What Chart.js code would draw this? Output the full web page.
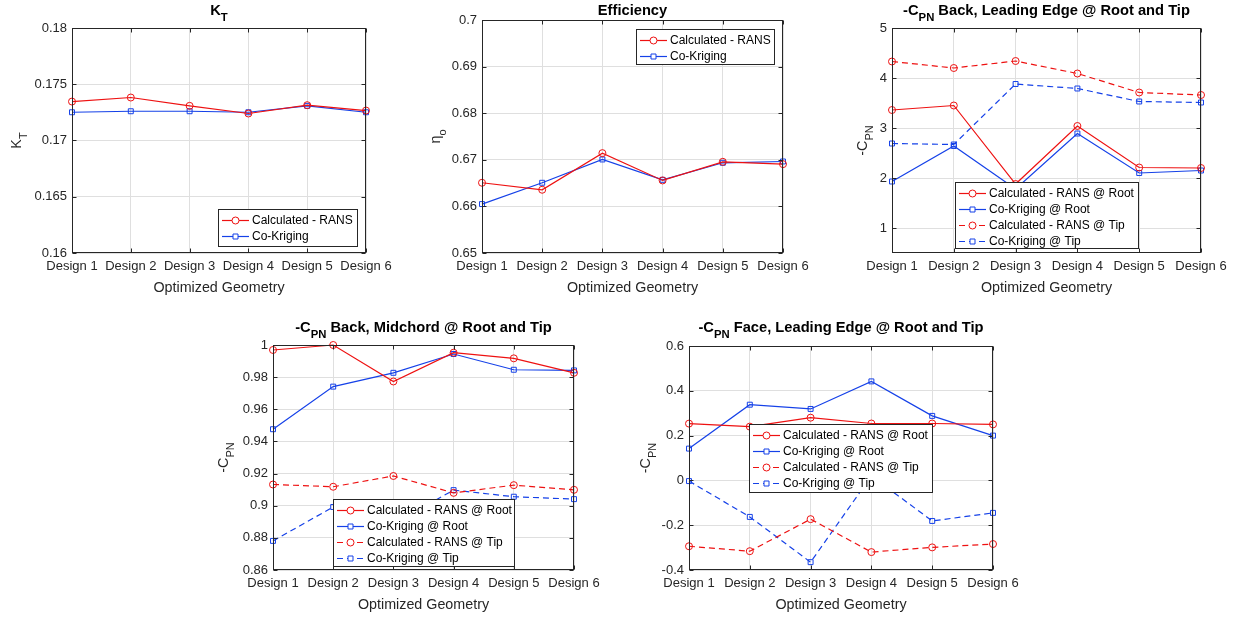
<!DOCTYPE html>
<html>
<head>
<meta charset="utf-8">
<script src="https://cdn.jsdelivr.net/npm/chart.js@4.4.0/dist/chart.umd.min.js"></script>
<style>
html, body { margin: 0; padding: 0; background: #fff; }
#wrap { position: relative; width: 1241px; height: 619px; overflow: hidden; background: #fff; }
#wrap canvas { position: absolute; left: 0; top: 0; }
</style>
</head>
<body>
<div id="wrap">
  <canvas id="kt" width="1241" height="619"></canvas>
  <canvas id="eta" width="1241" height="619"></canvas>
  <canvas id="backLe" width="1241" height="619"></canvas>
  <canvas id="mid" width="1241" height="619"></canvas>
  <canvas id="face" width="1241" height="619"></canvas>
</div>
<script>
// data
const designs = ["Design 1", "Design 2", "Design 3", "Design 4", "Design 5", "Design 6"];

const ktRans = [0.17346, 0.17382, 0.17308, 0.1724, 0.17314, 0.17266];
const ktCok = [0.17251, 0.1726, 0.1726, 0.17251, 0.17308, 0.17251];
const ktTicks = [0.16, 0.165, 0.17, 0.175, 0.18];

const etaRans = [0.66507, 0.66357, 0.67143, 0.66557, 0.66957, 0.66907];
const etaCok = [0.6605, 0.66507, 0.67007, 0.6657, 0.66936, 0.66964];
const etaTicks = [0.65, 0.66, 0.67, 0.68, 0.69, 0.7];

const backLeRansRoot = [3.36, 3.45, 1.88, 3.04, 2.21, 2.20];
const backLeCokRoot = [1.93, 2.64, 1.78, 2.89, 2.10, 2.15];
const backLeRansTip = [4.33, 4.20, 4.34, 4.09, 3.71, 3.66];
const backLeCokTip = [2.69, 2.67, 3.88, 3.79, 3.53, 3.51];
const backLeTicks = [1, 2, 3, 4, 5];

const midRansRoot = [0.9969, 1.0, 0.9773, 0.9952, 0.9917, 0.9827];
const midCokRoot = [0.9476, 0.9741, 0.9827, 0.9944, 0.9846, 0.9842];
const midRansTip = [0.9132, 0.9118, 0.9185, 0.908, 0.9128, 0.9099];
const midCokTip = [0.8781, 0.8992, 0.889, 0.9097, 0.9056, 0.9041];
const midTicks = [0.86, 0.88, 0.9, 0.92, 0.94, 0.96, 0.98, 1];

const faceRansRoot = [0.2535, 0.24, 0.28, 0.254, 0.254, 0.25];
const faceCokRoot = [0.142, 0.338, 0.319, 0.442, 0.288, 0.2];
const faceRansTip = [-0.294, -0.316, -0.173, -0.32, -0.299, -0.284];
const faceCokTip = [-0.003, -0.163, -0.365, 0.02, -0.181, -0.145];
const faceTicks = [-0.4, -0.2, 0, 0.2, 0.4, 0.6];

const FONT = "'Liberation Sans', Arial, Helvetica, sans-serif";
const RED = "#ee1111";
const BLUE = "#1541e8";
const AXIS = "#262626";

function series(label, data, color, dashed, marker) {
    return {
        label: label,
        data: data,
        borderColor: color,
        borderWidth: 1.2,
        borderDash: dashed ? [6, 4] : [],
        pointStyle: marker,
        pointRadius: 3.5,
        pointBorderWidth: 1,
        pointBorderColor: color,
        pointBackgroundColor: "rgba(0,0,0,0)",
        tension: 0,
        fill: false,
        clip: false
    };
}

const cpn = (rest) => [{ t: "-C" }, { t: "PN", sub: true }, { t: rest }];

const panels = [
    {
        canvas: "kt", plot: [72, 28, 366, 253], yRange: [0.16, 0.18], yTicks: ktTicks,
        datasets: [
            series("Calculated - RANS", ktRans, RED, false, "circle"),
            series("Co-Kriging", ktCok, BLUE, false, "rect")
        ],
        title: [{ t: "K" }, { t: "T", sub: true }], titleY: 15,
        yLabel: [{ t: "K" }, { t: "T", sub: true }], yLabelX: 21,
        legend: [218, 209, 139, 37]
    },
    {
        canvas: "eta", plot: [482, 20, 783, 253], yRange: [0.65, 0.7], yTicks: etaTicks,
        datasets: [
            series("Calculated - RANS", etaRans, RED, false, "circle"),
            series("Co-Kriging", etaCok, BLUE, false, "rect")
        ],
        title: [{ t: "Efficiency" }], titleY: 15,
        yLabel: [{ t: "\u03b7" }, { t: "o", sub: true }], yLabelX: 440,
        legend: [636, 29, 138, 35]
    },
    {
        canvas: "backLe", plot: [892, 28, 1201, 253], yRange: [0.5, 5], yTicks: backLeTicks,
        datasets: [
            series("Calculated - RANS @ Root", backLeRansRoot, RED, false, "circle"),
            series("Co-Kriging @ Root", backLeCokRoot, BLUE, false, "rect"),
            series("Calculated - RANS @ Tip", backLeRansTip, RED, true, "circle"),
            series("Co-Kriging @ Tip", backLeCokTip, BLUE, true, "rect")
        ],
        title: cpn(" Back, Leading Edge @ Root and Tip"), titleY: 15,
        yLabel: [{ t: "-C" }, { t: "PN", sub: true }], yLabelX: 867,
        legend: [955, 182, 183, 66]
    },
    {
        canvas: "mid", plot: [273, 345, 574, 570], yRange: [0.86, 1], yTicks: midTicks,
        datasets: [
            series("Calculated - RANS @ Root", midRansRoot, RED, false, "circle"),
            series("Co-Kriging @ Root", midCokRoot, BLUE, false, "rect"),
            series("Calculated - RANS @ Tip", midRansTip, RED, true, "circle"),
            series("Co-Kriging @ Tip", midCokTip, BLUE, true, "rect")
        ],
        title: cpn(" Back, Midchord @ Root and Tip"), titleY: 332,
        yLabel: [{ t: "-C" }, { t: "PN", sub: true }], yLabelX: 228,
        legend: [333, 499, 181, 67]
    },
    {
        canvas: "face", plot: [689, 346, 993, 570], yRange: [-0.4, 0.6], yTicks: faceTicks,
        datasets: [
            series("Calculated - RANS @ Root", faceRansRoot, RED, false, "circle"),
            series("Co-Kriging @ Root", faceCokRoot, BLUE, false, "rect"),
            series("Calculated - RANS @ Tip", faceRansTip, RED, true, "circle"),
            series("Co-Kriging @ Tip", faceCokTip, BLUE, true, "rect")
        ],
        title: cpn(" Face, Leading Edge @ Root and Tip"), titleY: 332,
        yLabel: [{ t: "-C" }, { t: "PN", sub: true }], yLabelX: 650,
        legend: [749, 424, 183, 68]
    }
];

// text with TeX-like subscripts, optionally rotated for the y label
function drawParts(ctx, parts, size, bold, x, y, rotated, color) {
    ctx.save();
    ctx.translate(x, y);
    if (rotated) ctx.rotate(-Math.PI / 2);
    const fonts = parts.map(p => (bold ? "bold " : "") + (p.sub ? size * 0.77 : size) + "px " + FONT);
    const widths = parts.map((p, i) => { ctx.font = fonts[i]; return ctx.measureText(p.t).width; });
    let cx = -widths.reduce((a, b) => a + b, 0) / 2;
    ctx.fillStyle = color;
    ctx.textAlign = "left";
    ctx.textBaseline = "alphabetic";
    parts.forEach((p, i) => {
        ctx.font = fonts[i];
        ctx.fillText(p.t, cx, p.sub ? size * 0.4 : 0);
        cx += widths[i];
    });
    ctx.restore();
}

function matlabLook(panel) {
    return {
        id: "matlabLook",
        afterDatasetsDraw(chart) {
            const ctx = chart.ctx;
            const a = chart.chartArea;
            const L = Math.round(a.left) + 0.5, R = Math.round(a.right) - 0.5;
            const T = Math.round(a.top) + 0.5, B = Math.round(a.bottom) - 0.5;
            const xs = chart.scales.x, ys = chart.scales.y;

            ctx.save();
            ctx.strokeStyle = AXIS;
            ctx.lineWidth = 1;
            ctx.setLineDash([]);
            ctx.strokeRect(L, T, R - L, B - T);
            ctx.beginPath();
            ys.ticks.forEach(t => {
                const py = Math.round(ys.getPixelForValue(t.value)) + 0.5;
                ctx.moveTo(L, py); ctx.lineTo(L + 4, py);
                ctx.moveTo(R, py); ctx.lineTo(R - 4, py);
            });
            xs.ticks.forEach((t, i) => {
                const px = Math.round(xs.getPixelForTick(i)) + 0.5;
                ctx.moveTo(px, B); ctx.lineTo(px, B - 4);
                ctx.moveTo(px, T); ctx.lineTo(px, T + 4);
            });
            ctx.stroke();
            ctx.restore();

            const cx = (a.left + a.right) / 2;
            const cy = (a.top + a.bottom) / 2;
            drawParts(ctx, panel.title, 14.7, true, cx, panel.titleY, false, "#000");
            drawParts(ctx, [{ t: "Optimized Geometry" }], 14.3, false, cx, a.bottom + 39, false, AXIS);
            drawParts(ctx, panel.yLabel, 14.3, false, panel.yLabelX, cy, true, AXIS);

            // legend box
            const [lx, ly, lw, lh] = panel.legend;
            ctx.save();
            ctx.fillStyle = "#fff";
            ctx.fillRect(lx, ly, lw, lh);
            ctx.strokeStyle = AXIS;
            ctx.lineWidth = 1;
            ctx.strokeRect(lx + 0.5, ly + 0.5, lw, lh);
            chart.data.datasets.forEach((ds, i) => {
                const ry = Math.round(ly + 11 + i * 16) + 0.5;
                ctx.strokeStyle = ds.borderColor;
                ctx.lineWidth = ds.borderWidth;
                ctx.setLineDash(ds.borderDash);
                ctx.beginPath();
                ctx.moveTo(lx + 4, ry);
                ctx.lineTo(lx + 31, ry);
                ctx.stroke();
                ctx.setLineDash([]);
                ctx.lineWidth = 1;
                ctx.beginPath();
                if (ds.pointStyle === "circle") {
                    ctx.arc(lx + 17.5, ry, 3.5, 0, Math.PI * 2);
                } else {
                    ctx.rect(lx + 15, ry - 2.5, 5, 5);
                }
                ctx.fillStyle = "#fff";
                ctx.fill();
                ctx.stroke();
                ctx.fillStyle = "#000";
                ctx.font = "12px " + FONT;
                ctx.textBaseline = "middle";
                ctx.textAlign = "left";
                ctx.fillText(ds.label, lx + 34, ry);
            });
            ctx.restore();
        }
    };
}

const Y_W = 40, X_H = 30;

panels.forEach(panel => {
    const [pl, pt, pr, pb] = panel.plot;
    new Chart(document.getElementById(panel.canvas), {
        type: "line",
        data: { labels: designs, datasets: panel.datasets },
        options: {
            responsive: false,
            animation: false,
            events: [],
            layout: {
                padding: { left: pl - Y_W, top: pt, right: 1241 - pr, bottom: 619 - pb - X_H }
            },
            plugins: { legend: { display: false }, title: { display: false }, tooltip: { enabled: false } },
            scales: {
                x: {
                    type: "category",
                    offset: false,
                    grid: { color: "#dfdfdf", drawTicks: false, offset: false },
                    border: { display: false },
                    ticks: {
                        autoSkip: false, maxRotation: 0, minRotation: 0, padding: 6,
                        color: AXIS, font: { family: FONT, size: 13 }
                    },
                    afterFit: s => { s.height = X_H; }
                },
                y: {
                    min: panel.yRange[0],
                    max: panel.yRange[1],
                    grid: { color: "#dfdfdf", drawTicks: false },
                    border: { display: false },
                    ticks: {
                        padding: 5, color: AXIS, font: { family: FONT, size: 13 },
                        callback: v => String(parseFloat(Number(v).toFixed(6)))
                    },
                    afterBuildTicks: s => { s.ticks = panel.yTicks.map(v => ({ value: v })); },
                    afterFit: s => { s.width = Y_W; }
                }
            }
        },
        plugins: [matlabLook(panel)]
    });
});
</script>
</body>
</html>
